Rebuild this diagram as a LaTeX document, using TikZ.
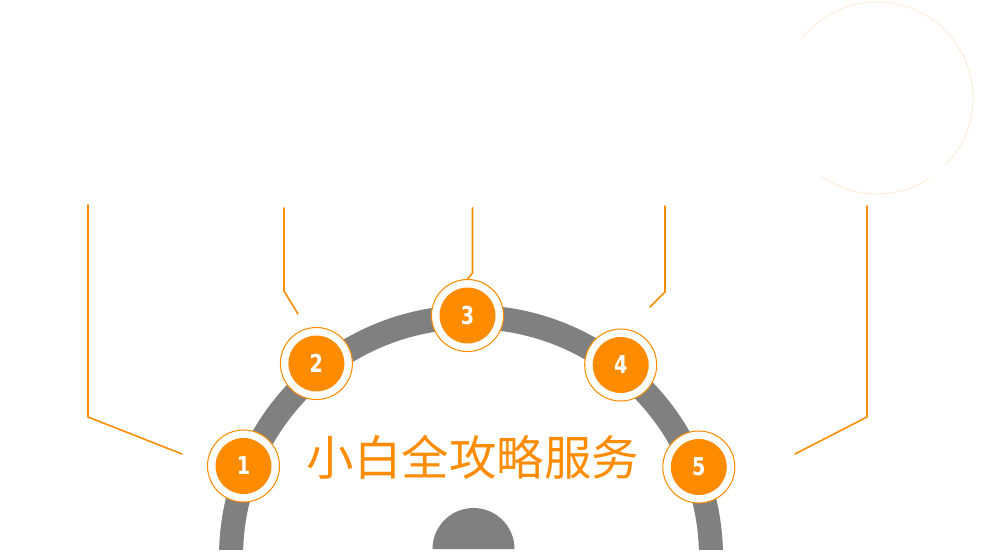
\documentclass[tikz,border=0pt]{standalone}
\usepackage{fontspec}
\newfontfamily\cjk{Noto Sans CJK SC}
\newfontfamily\numfont{DejaVu Sans}[FakeStretch=0.78]
\definecolor{mainorange}{HTML}{FF8C00}
\definecolor{ringgray}{HTML}{808080}
\definecolor{paleorange}{HTML}{FEEBD6}
\tikzset{
  stepdot/.style={circle, draw=mainorange, line width=0.6pt, fill=white,
    minimum size=1.44cm, inner sep=0pt, text=white,
    font=\numfont\bfseries\fontsize{14}{14}\selectfont,
    path picture={\fill[mainorange] (path picture bounding box.center) circle (28);}},
  guide/.style={mainorange, line width=0.9pt}
}
\begin{document}
\begin{tikzpicture}[x=0.02cm, y=0.02cm, line join=round, line cap=round]
\def \W{995}
\def \H{556}
\useasboundingbox (0,0) rectangle (\W,\H);
% faint circle top right
\draw[paleorange, line width=0.5pt] (877,458) ++(235:96) arc (235:303:96);
\draw[paleorange, line width=0.5pt] (877,458) ++(316:96) arc (316:501:96);
% ring and hub
\begin{scope}
\clip (0,7) rectangle (\W,\H);
\draw[ringgray, line width=0.48cm, line cap=butt] (471,-1) ++(180:240) arc (180:0:240);
\end{scope}
\fill[ringgray] (514.5,7) arc (0:180:41) -- cycle;
% steps
\node[stepdot] (s1) at (243.5,90) {1};
\node[stepdot] (s2) at (316.4,192.5) {2};
\node[stepdot] (s3) at (467.5,240.5) {3};
\node[stepdot] (s4) at (620.7,191) {4};
\node[stepdot] (s5) at (698.8,89) {5};
\node[mainorange, font=\cjk\fontsize{27}{30}\selectfont] (title) at (473,98.5) {小白全攻略服务};
% guide lines
\coordinate (a1) at (88,351);  \coordinate (a2) at (88,139);  \coordinate (a3) at (182,102);
\coordinate (b1) at (284,348); \coordinate (b2) at (284,265); \coordinate (b3) at (298,242);
\coordinate (c1) at (472.5,348); \coordinate (c2) at (472.5,283);
\coordinate (d1) at (665,350); \coordinate (d2) at (665,264); \coordinate (d3) at (650,249);
\coordinate (e1) at (867,350); \coordinate (e2) at (867,139); \coordinate (e3) at (795,102);
\draw[guide] (a1)--(a2)--(a3);
\draw[guide] (b1)--(b2)--(b3);
\draw[guide] (c1)--(c2)--(s3.north);
\draw[guide] (d1)--(d2)--(d3);
\draw[guide] (e1)--(e2)--(e3);
\end{tikzpicture}
\end{document}
